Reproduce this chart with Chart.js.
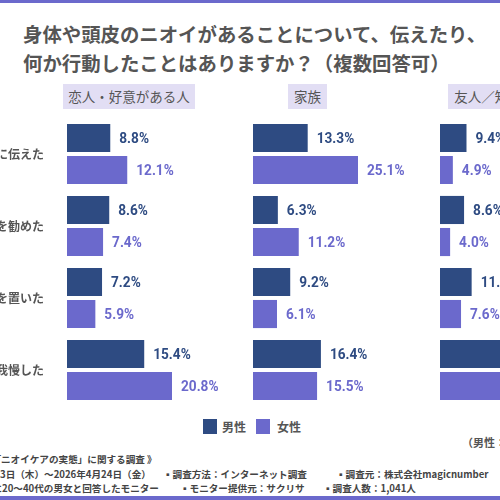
<!DOCTYPE html>
<html lang="ja">
<head>
<meta charset="utf-8">
<script src="https://cdn.jsdelivr.net/npm/chart.js@4.4.1/dist/chart.umd.min.js"></script>
<style>
  html, body { margin: 0; padding: 0; }
  body {
    width: 500px; height: 500px; position: relative; overflow: hidden;
    background: #fff; font-family: "Noto Sans CJK JP", sans-serif; color: #555;
  }
  .bar-line { position: absolute; left: 0; width: 500px; height: 3px; background: #6b69cc; }
  .title {
    position: absolute; left: 23px; top: 19px; margin: 0;
    font-size: 19.4px; font-weight: bold; line-height: 29px; white-space: nowrap; color: #555;
  }
  .head {
    position: absolute; top: 84px; height: 25px; line-height: 25px;
    background: #e2def4; font-size: 13.5px; text-align: center; white-space: nowrap;
  }
  canvas { position: absolute; top: 118px; }
  .legend { position: absolute; top: 419px; font-size: 12px; font-weight: bold; line-height: 15px; }
  .legend i { position: absolute; top: 0; width: 14px; height: 15px; }
  .note { position: absolute; left: 462px; top: 434px; font-size: 11px; font-weight: bold; white-space: nowrap; }
  .fn { position: absolute; font-size: 9.6px; font-weight: bold; color: #444; white-space: nowrap; line-height: 14px; }
  .fn .pre { position: absolute; right: 100%; }
</style>
</head>
<body>
<div class="bar-line" style="top:0"></div>
<h1 class="title">身体や頭皮のニオイがあることについて、伝えたり、<br>何か行動したことはありますか？（複数回答可）</h1>

<div class="head" style="left:63px;width:132px">恋人・好意がある人</div>
<div class="head" style="left:288px;width:39px">家族</div>
<div class="head" style="left:448px;width:80px">友人／知人</div>

<canvas id="lover" width="336" height="288" style="left:-100px"></canvas>
<canvas id="family" width="170" height="288" style="left:252px"></canvas>
<canvas id="friend" width="170" height="288" style="left:439px"></canvas>

<div class="legend" style="left:203px"><i style="background:#2e4b82"></i><span style="margin-left:19px">男性</span></div>
<div class="legend" style="left:256px"><i style="background:#6b69cc"></i><span style="margin-left:21px">女性</span></div>
<div class="note">（男性：n=520、女性：n=521）</div>

<div class="fn" style="left:1px;top:452px"><span class="pre">▪調査概要：《 「</span>ニオイケアの実態」に関する調査 》</div>
<div class="fn" style="left:0px;top:467px"><span class="pre">▪調査期間：2026年4月2</span>3日（木）〜2026年4月24日（金）</div>
<div class="fn" style="left:163px;top:467px">▪調査方法：インターネット調査</div>
<div class="fn" style="left:336px;top:467px">▪調査元：株式会社magicnumber</div>
<div class="fn" style="left:2px;top:481px"><span class="pre">▪調査対象：調査回答時に</span>20〜40代の男女と回答したモニター</div>
<div class="fn" style="left:180px;top:481px">▪モニター提供元：サクリサ</div>
<div class="fn" style="left:323px;top:481px">▪調査人数：1,041人</div>
<div class="bar-line" style="top:496px;height:4px"></div>

<script>
"use strict";

const categories = ["直接本人に伝えた", "ケア用品を勧めた", "距離を置いた", "何も言わず我慢した"];
const seriesNames = ["男性", "女性"];

const loverMale = [8.8, 8.6, 7.2, 15.4];
const loverFemale = [12.1, 7.4, 5.9, 20.8];
const familyMale = [13.3, 6.3, 9.2, 16.4];
const familyFemale = [25.1, 11.2, 6.1, 15.5];
const friendMale = [9.4, 8.6, 11.1, 31.0];
const friendFemale = [4.9, 4.0, 7.6, 35.3];

const maleColor = "#2e4b82";
const femaleColor = "#6b69cc";

// percent label just right of each bar (squeezed a bit, like a condensed face)
const valueLabels = {
  id: "valueLabels",
  afterDatasetsDraw(chart) {
    const ctx = chart.ctx;
    ctx.save();
    ctx.font = "bold 15.5px Roboto, sans-serif";
    ctx.textBaseline = "middle";
    chart.data.datasets.forEach((ds, i) => {
      ctx.fillStyle = ds.backgroundColor;
      chart.getDatasetMeta(i).data.forEach((bar, j) => {
        ctx.save();
        ctx.translate(bar.x + 8, bar.y + 1);
        ctx.scale(0.88, 1);
        ctx.fillText(ds.data[j].toFixed(1) + "%", 0, 0);
        ctx.restore();
      });
    });
    ctx.restore();
  },
};

const makeChart = function (id, male, female, showLabels) {
  const top = Math.max(...male, ...female);
  const bar = {
    borderWidth: 1,
    borderColor: "rgba(255,255,255,0.45)",
    borderSkipped: false,
    categoryPercentage: 0.89,
    barPercentage: 0.94,
  };
  const yAxis = {
    display: showLabels,
    grid: { display: false, drawTicks: false },
    border: { display: false },
    ticks: {
      color: "#555",
      padding: 22,
      font: { family: "'Noto Sans CJK JP'", size: 12, weight: "bold" },
    },
  };
  if (showLabels) {
    yAxis.afterFit = (scale) => {
      scale.width = 166;
      scale.paddingTop = 0;
      scale.paddingBottom = 0;
    };
  }
  return new Chart(id, {
    type: "bar",
    data: {
      labels: categories,
      datasets: [
        { ...bar, label: seriesNames[0], data: male, backgroundColor: maleColor },
        { ...bar, label: seriesNames[1], data: female, backgroundColor: femaleColor },
      ],
    },
    options: {
      indexAxis: "y",
      responsive: false,
      animation: false,
      events: [],
      layout: { padding: 0 },
      plugins: {
        legend: { display: false },
        tooltip: { enabled: false },
      },
      scales: {
        x: { display: false, min: 0, max: (top * 170) / 107 },
        y: yAxis,
      },
    },
    plugins: [valueLabels],
  });
};

makeChart("lover", loverMale, loverFemale, true);
makeChart("family", familyMale, familyFemale, false);
makeChart("friend", friendMale, friendFemale, false);
</script>
</body>
</html>
